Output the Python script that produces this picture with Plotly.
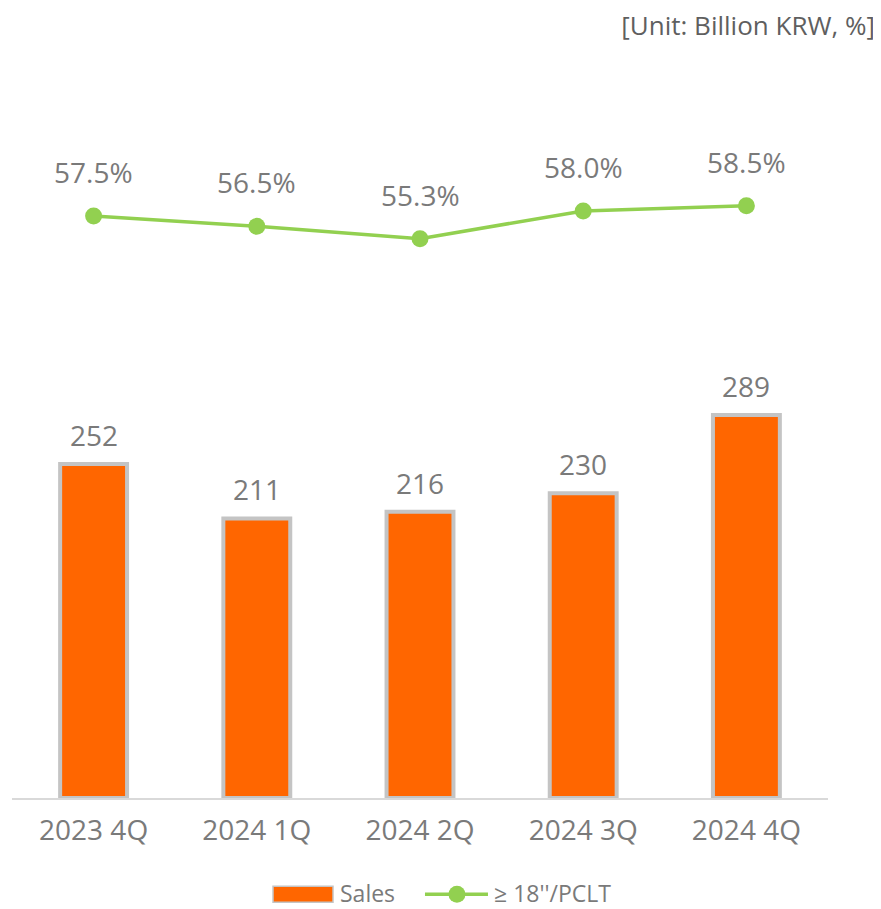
import plotly.graph_objects as go

categories = ["2023 4Q", "2024 1Q", "2024 2Q", "2024 3Q", "2024 4Q"]
sales = [252, 211, 216, 230, 289]
pclt_share = [57.5, 56.5, 55.3, 58.0, 58.5]
pclt_labels = ["57.5%", "56.5%", "55.3%", "58.0%", "58.5%"]
sales_name = "Sales"
pclt_name = "≥ 18''/PCLT"
unit_text = "[Unit: Billion KRW, %]"

FONT = "Open Sans"
GRAY = "#7a7a7a"
ORANGE = "#FF6600"
GREEN = "#92D050"
BORDER = "#c4c4c4"

fig = go.Figure()
fig.add_trace(go.Bar(
    x=categories, y=sales, name=sales_name,
    marker=dict(color=ORANGE, line=dict(color=BORDER, width=4)),
    width=0.41, showlegend=False,
))
fig.add_trace(go.Scatter(
    x=categories, y=pclt_share, name=pclt_name, yaxis="y2",
    mode="lines+markers",
    line=dict(color=GREEN, width=3.5),
    marker=dict(color=GREEN, size=17),
    cliponaxis=False, showlegend=False,
))
for c, v in zip(categories, sales):
    fig.add_annotation(x=c, y=v, yref="y", text=str(v), showarrow=False,
                       yanchor="middle", yshift=29,
                       font=dict(family=FONT, size=28, color=GRAY))
for c, v, t in zip(categories, pclt_share, pclt_labels):
    fig.add_annotation(x=c, y=v, yref="y2", text=t, showarrow=False,
                       yanchor="middle", yshift=44,
                       font=dict(family=FONT, size=28, color=GRAY))

# manual legend
ly = -0.1287
shapes = [
    dict(type="rect", xref="paper", yref="paper", x0=0.3199, x1=0.3934, y0=-0.1413, y1=-0.1196,
         fillcolor=ORANGE, line=dict(color=BORDER, width=1.5)),
    dict(type="line", xref="paper", yref="paper", x0=0.5061, x1=0.5833, y0=-0.1305, y1=-0.1305,
         line=dict(color=GREEN, width=3.5)),
    dict(type="circle", xref="paper", yref="paper", xsizemode="pixel", ysizemode="pixel",
         xanchor=0.5453, yanchor=-0.1305, x0=-8.5, x1=8.5, y0=-8.5, y1=8.5,
         fillcolor=GREEN, line=dict(color=GREEN, width=0)),
]
fig.add_annotation(text=sales_name, xref="paper", yref="paper", x=0.4007, y=ly,
                   xanchor="left", yanchor="middle", showarrow=False, borderpad=0,
                   font=dict(family=FONT, size=23, color=GRAY))
fig.add_annotation(text=pclt_name, xref="paper", yref="paper", x=0.5895, y=ly,
                   xanchor="left", yanchor="middle", showarrow=False, borderpad=0,
                   font=dict(family=FONT, size=23, color=GRAY))

fig.update_layout(
    width=873, height=901,
    margin=dict(l=4, r=53, t=52, b=111),
    paper_bgcolor="white", plot_bgcolor="white",
    showlegend=False,
    shapes=shapes,
    title=dict(text=unit_text, xref="container", yref="container",
               x=0.9931, xanchor="right", y=0.98002, yanchor="middle",
               pad=dict(t=0, b=0, l=0, r=0),
               font=dict(family=FONT, size=26, color="#5f5f5f")),
    xaxis=dict(showline=True, linecolor="#d9d9d9", linewidth=2, ticks="",
               tickfont=dict(family=FONT, size=28, color=GRAY), showgrid=False,
               ticklabelstandoff=6),
    yaxis=dict(range=[0, 557], visible=False, showgrid=False),
    yaxis2=dict(range=[1.0, 72.65], overlaying="y", visible=False, showgrid=False),
)

fig.write_html("out.html")
